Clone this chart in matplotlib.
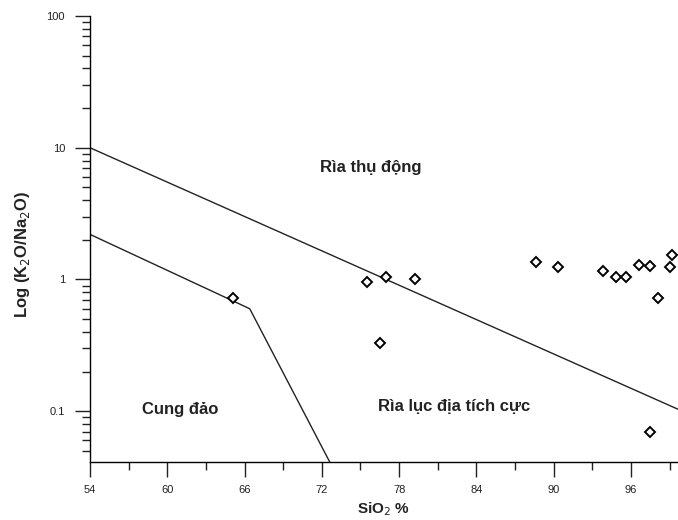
import matplotlib
matplotlib.use("Agg")
import matplotlib.pyplot as plt
from matplotlib.ticker import MultipleLocator, FixedLocator, LogLocator, NullFormatter, FixedFormatter

plt.rcParams['font.family'] = ['Liberation Sans', 'DejaVu Sans']

# Boundary lines
upper_x = [54, 100]
upper_y = [10, 0.1]
lower_x = [54, 66.4, 72.6]
lower_y = [2.2, 0.6, 0.0414]

# Samples
sio2 = [65.1, 75.5, 77.0, 79.2, 76.5, 88.6, 90.3, 93.8, 94.8, 95.6, 96.6, 97.5, 99.2, 99.0, 98.1, 97.45]
ratio = [0.72, 0.95, 1.05, 1.0, 0.33, 1.35, 1.25, 1.17, 1.05, 1.05, 1.29, 1.27, 1.53, 1.25, 0.73, 0.07]

xticks = [54, 60, 66, 72, 78, 84, 90, 96]
yticks = [0.1, 1, 10, 100]
yticklabels = ["0.1", "1", "10", "100"]

fig = plt.figure(figsize=(6.78, 5.2), dpi=100)
ax = fig.add_axes([90/678, (520-461.7)/520, 1 - 90/678, (461.7-16)/520])
ax.set_yscale('log')
ax.set_xlim(54, 99.65)
ax.set_ylim(0.0414, 100)

ax.plot(upper_x, upper_y, color='#222222', lw=1.0)
ax.plot(lower_x, lower_y, color='#222222', lw=1.0)
ax.plot(sio2, ratio, linestyle='none', marker='D', markersize=5.5,
        markerfacecolor='white', markeredgecolor='black', markeredgewidth=1.4, clip_on=False, zorder=3)

for s in ['top', 'right']:
    ax.spines[s].set_visible(False)
for s in ['left', 'bottom']:
    ax.spines[s].set_linewidth(1.0)

ax.xaxis.set_major_locator(FixedLocator(xticks))
ax.xaxis.set_minor_locator(MultipleLocator(3))
ax.set_xticklabels([str(t) for t in xticks])
ax.yaxis.set_major_locator(FixedLocator(yticks))
ax.yaxis.set_major_formatter(FixedFormatter(yticklabels))
ax.yaxis.set_minor_locator(LogLocator(base=10, subs=range(2, 10)))
ax.yaxis.set_minor_formatter(NullFormatter())

ax.tick_params(axis='x', which='major', length=11, width=1, direction='out', labelsize=8, pad=6, colors='#222222')
ax.tick_params(axis='x', which='minor', length=6, width=1, direction='out', colors='#222222')
ax.tick_params(axis='y', which='major', length=11, width=1, direction='out', labelsize=8, pad=7, colors='#222222')
ax.tick_params(axis='y', which='minor', length=6, width=1, direction='out', colors='#222222')

ax.set_xlabel("SiO$_2$ %", fontsize=11, fontweight='bold', va='center', color='#222222')
ax.xaxis.set_label_coords(0.5, -0.106)
ax.set_ylabel("Log (K$_2$O/Na$_2$O)", fontsize=12, fontweight='bold', va='center', color='#222222')
ax.yaxis.set_label_coords(-0.1156, 0.466)

ax.text(75.8, 7.1, "Rìa thụ động", fontsize=12, fontweight='bold', ha='center', va='center', color='#222222')
ax.text(61.0, 0.103, "Cung đảo", fontsize=12, fontweight='bold', ha='center', va='center', color='#222222')
ax.text(82.3, 0.109, "Rìa lục địa tích cực", fontsize=12, fontweight='bold', ha='center', va='center', color='#222222')

fig.savefig("out.png", dpi=100)
